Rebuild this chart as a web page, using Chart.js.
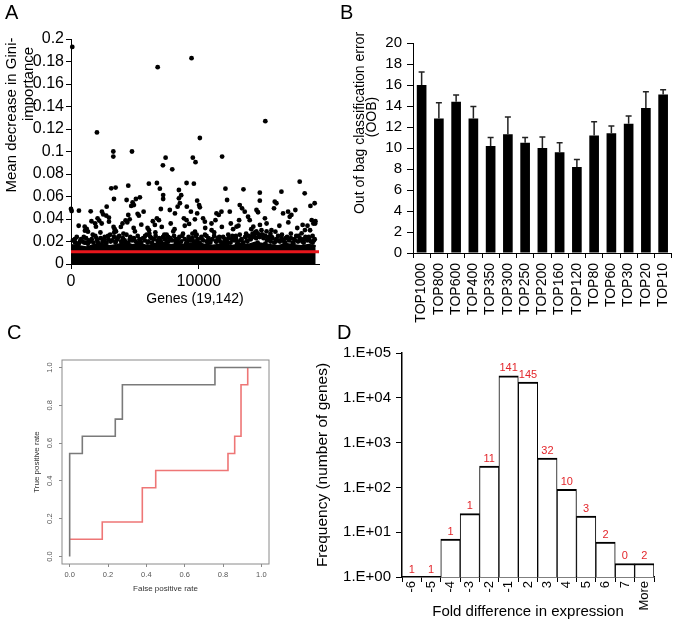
<!DOCTYPE html>
<html lang="en">
<head>
<meta charset="UTF-8">
<title>Gene importance, OOB error, ROC and fold-change histogram</title>
<script src="https://cdn.jsdelivr.net/npm/chart.js"></script>
<style>
  body { margin: 0; background: #fff; }
  .fig { position: relative; width: 685px; height: 621px; font-family: 'Liberation Sans', Arial, sans-serif; }
  .fig canvas { position: absolute; }
  .tag { position: absolute; font-size: 20px; line-height: 20px; color: #000; }
</style>
</head>
<body>
<div class="fig">
  <canvas id="chartA" width="340" height="312" style="left:0;top:0"></canvas>
  <canvas id="chartB" width="345" height="330" style="left:340px;top:0"></canvas>
  <canvas id="chartC" width="290" height="301" style="left:0;top:320px"></canvas>
  <canvas id="chartD" width="395" height="296" style="left:290px;top:325px"></canvas>
  <div class="tag" style="left:5px;top:2px">A</div>
  <div class="tag" style="left:340px;top:2px">B</div>
  <div class="tag" style="left:7px;top:322px">C</div>
  <div class="tag" style="left:337px;top:322px">D</div>
</div>

<script>
  const FONT = "'Liberation Sans', Arial, sans-serif";

  // --- A: mean decrease in Gini importance, one value per gene ---
  const geneAxisMax = 19400;
  const giniCutoff = 0.011;
  // genes standing out above the dense band [gene index, importance]
  const giniOutliers = [
    [100, 0.193], [6780, 0.175], [9430, 0.183], [15200, 0.127], [2030, 0.117], [10080, 0.112],
    [3310, 0.100], [3310, 0.0955], [4770, 0.100], [7400, 0.0945], [9530, 0.0945], [9740, 0.0905],
    [7190, 0.0877], [7920, 0.0842], [11820, 0.0955], [17890, 0.0732], [3150, 0.0673], [3490, 0.0679],
    [4480, 0.0696], [6090, 0.0714], [6720, 0.072], [9040, 0.072], [9610, 0.0714], [12080, 0.067],
    [13490, 0.0664], [8440, 0.0658], [18280, 0.0628], [16460, 0.0643], [14770, 0.0634], [14770, 0.0563],
    [12210, 0.0569], [9870, 0.0563], [10020, 0.0524], [10080, 0.0504], [3360, 0.0578], [5390, 0.0593],
    [5080, 0.0578], [4820, 0.0548], [4920, 0.0524], [4710, 0.0516], [4350, 0.0569],
    [0, 0.0489], [50, 0.0471], [620, 0.0474], [1540, 0.0468], [2420, 0.0465], [2520, 0.0441],
    [2790, 0.051], [2760, 0.043], [2970, 0.0412], [2970, 0.0376], [2080, 0.0406], [2210, 0.0385],
    [1880, 0.0362], [1950, 0.0332], [1070, 0.0332], [1230, 0.0311], [1090, 0.0296], [1330, 0.0287],
    [3330, 0.033], [3420, 0.031], [3380, 0.028], [3520, 0.029], [5210, 0.0446], [5310, 0.043],
    [4480, 0.0436], [4590, 0.0397], [4270, 0.0388], [4030, 0.036], [4400, 0.037], [3900, 0.033],
    [5680, 0.0465], [5990, 0.032], [6100, 0.030], [6130, 0.027], [6950, 0.067], [7210, 0.0613],
    [7210, 0.0578], [7030, 0.0489], [7730, 0.048], [6720, 0.0406], [6880, 0.039], [6560, 0.0347],
    [8130, 0.045], [8620, 0.0611], [8440, 0.0584], [8520, 0.054], [8340, 0.051], [9060, 0.051],
    [9380, 0.0465], [8830, 0.0406], [9040, 0.039], [9240, 0.0356], [9700, 0.0287], [9830, 0.026],
    [9870, 0.045], [9690, 0.0397], [11380, 0.045], [11560, 0.0436], [11770, 0.0465], [11300, 0.039],
    [10330, 0.0406], [10470, 0.0376], [10990, 0.036], [12420, 0.0465], [13200, 0.0524], [13380, 0.0495],
    [13590, 0.0465], [13850, 0.042], [13980, 0.039], [14510, 0.048], [14630, 0.046], [15170, 0.0406],
    [15300, 0.036], [14780, 0.0347], [14260, 0.0332], [13150, 0.039], [12950, 0.0332], [12680, 0.031],
    [15940, 0.0554], [16070, 0.054], [15880, 0.0495], [16590, 0.045], [15680, 0.030], [15990, 0.0287],
    [17110, 0.042], [16980, 0.0465], [17240, 0.0436], [17550, 0.048], [18120, 0.0347], [18300, 0.0302],
    [18040, 0.0273], [18830, 0.039], [18960, 0.036], [18700, 0.030], [19100, 0.036], [19060, 0.054],
    [18730, 0.0516],
    [600, 0.034], [1600, 0.038], [2400, 0.036], [4900, 0.032], [5500, 0.035], [6400, 0.038],
    [7100, 0.033], [7800, 0.036], [8100, 0.031], [8900, 0.034], [10500, 0.032], [11000, 0.030],
    [11800, 0.033], [12500, 0.036], [13100, 0.034], [14100, 0.031], [16300, 0.034], [17000, 0.037],
    [17700, 0.032], [18500, 0.034], [19120, 0.038],
    [300, 0.022], [700, 0.020], [1000, 0.024], [1400, 0.021], [1700, 0.026], [2000, 0.023],
    [2300, 0.028], [2600, 0.021], [2900, 0.025], [3100, 0.020], [3700, 0.024], [4100, 0.027],
    [4600, 0.022], [5000, 0.029], [5400, 0.021], [5800, 0.025], [6300, 0.023], [6600, 0.028],
    [7000, 0.021], [7300, 0.026], [7600, 0.024], [8000, 0.029], [8200, 0.022], [8700, 0.025],
    [9200, 0.021], [9500, 0.027], [10200, 0.023], [10600, 0.025], [10900, 0.021], [11200, 0.028],
    [11600, 0.024], [12000, 0.020], [12300, 0.026], [12600, 0.022], [12900, 0.025], [13300, 0.021],
    [13700, 0.027], [14000, 0.024], [14400, 0.028], [14700, 0.025], [15000, 0.026], [15400, 0.022],
    [15700, 0.024], [16200, 0.021], [16500, 0.026], [16800, 0.023], [17200, 0.027], [17500, 0.021],
    [17800, 0.025], [18200, 0.022], [18600, 0.024], [19000, 0.021],
    [14200, 0.027], [14500, 0.029], [14900, 0.030], [15300, 0.029], [15600, 0.027],
    [500, 0.018], [1200, 0.019], [2100, 0.019], [2700, 0.018], [3500, 0.020], [4300, 0.019],
    [5200, 0.018], [6000, 0.019], [6800, 0.018], [7500, 0.020], [8400, 0.019], [9000, 0.018],
    [9900, 0.019], [10700, 0.018], [11400, 0.020], [12200, 0.019], [13000, 0.018], [13800, 0.020],
    [14600, 0.019], [15200, 0.018], [16000, 0.020], [16700, 0.019], [17400, 0.018], [18100, 0.020],
    [18900, 0.019]
  ];
  // crowded genes just above the solid band
  const giniCrowd = [
    [150, 0.021], [320, 0.019], [450, 0.024], [610, 0.018], [780, 0.022], [900, 0.020], [1050, 0.019],
    [1180, 0.023], [1320, 0.018], [1480, 0.020], [1620, 0.022], [1760, 0.019], [1900, 0.025], [2050, 0.021],
    [2180, 0.018], [2330, 0.023], [2480, 0.020], [2640, 0.024], [2780, 0.019], [2920, 0.022], [3060, 0.026],
    [3200, 0.021], [3360, 0.024], [3480, 0.019], [3620, 0.022], [3780, 0.025], [3920, 0.020], [4060, 0.023],
    [4200, 0.021], [4340, 0.026], [4480, 0.019], [4640, 0.024], [4780, 0.021], [4920, 0.023], [5060, 0.020],
    [5220, 0.025], [5360, 0.022], [5500, 0.019], [5640, 0.023], [5780, 0.021], [5920, 0.026], [6060, 0.020],
    [6200, 0.024], [6340, 0.019], [6480, 0.022], [6620, 0.025], [6760, 0.021], [6900, 0.023], [7060, 0.019],
    [7200, 0.024], [7340, 0.022], [7480, 0.026], [7620, 0.020], [7760, 0.023], [7900, 0.021], [8060, 0.025],
    [8200, 0.019], [8340, 0.022], [8480, 0.024], [8620, 0.020], [8760, 0.027], [8900, 0.022], [9060, 0.019],
    [9200, 0.024], [9340, 0.021], [9480, 0.023], [9620, 0.020], [9760, 0.025], [9900, 0.022], [10060, 0.019],
    [10200, 0.024], [10340, 0.021], [10480, 0.026], [10620, 0.020], [10760, 0.023], [10900, 0.019], [11060, 0.022],
    [11200, 0.025], [11340, 0.020], [11480, 0.023], [11620, 0.021], [11760, 0.019], [11900, 0.024], [12060, 0.022],
    [12200, 0.020], [12340, 0.023], [12480, 0.019], [12620, 0.025], [12760, 0.021], [12900, 0.023], [13060, 0.020],
    [13200, 0.026], [13340, 0.022], [13480, 0.019], [13620, 0.024], [13760, 0.021], [13900, 0.025], [14060, 0.022],
    [14200, 0.024], [14340, 0.026], [14480, 0.023], [14620, 0.027], [14760, 0.024], [14900, 0.026], [15060, 0.023],
    [15200, 0.025], [15340, 0.021], [15480, 0.024], [15620, 0.020], [15760, 0.023], [15900, 0.019], [16060, 0.022],
    [16200, 0.025], [16340, 0.020], [16480, 0.023], [16620, 0.021], [16760, 0.019], [16900, 0.024], [17060, 0.021],
    [17200, 0.023], [17340, 0.019], [17480, 0.022], [17620, 0.025], [17760, 0.020], [17900, 0.023], [18060, 0.021],
    [18200, 0.019], [18340, 0.024], [18480, 0.021], [18620, 0.023], [18760, 0.020], [18900, 0.025], [19060, 0.022]
  ];
  // upper edge of the solid band of ~19,000 low-importance genes
  const bandGene = [0, 600, 1200, 1800, 2400, 3000, 3600, 4200, 4800, 5400, 6000, 6600, 7200, 7800,
    8400, 9000, 9600, 10200, 10800, 11400, 12000, 12600, 13200, 13800, 14400, 15000, 15600, 16200,
    16800, 17400, 18000, 18600, 19142];
  const bandTop = [0.017, 0.016, 0.015, 0.017, 0.018, 0.016, 0.017, 0.019, 0.017, 0.018, 0.016, 0.018,
    0.019, 0.017, 0.018, 0.017, 0.019, 0.018, 0.016, 0.017, 0.018, 0.016, 0.018, 0.017, 0.019, 0.018,
    0.017, 0.016, 0.018, 0.017, 0.016, 0.017, 0.016];

  // --- B: out of bag classification error by gene set ---
  const geneSets = ['TOP1000', 'TOP800', 'TOP600', 'TOP400', 'TOP350', 'TOP300', 'TOP250', 'TOP200',
    'TOP160', 'TOP120', 'TOP80', 'TOP60', 'TOP30', 'TOP20', 'TOP10'];
  const oobMean = [16.0, 12.8, 14.4, 12.8, 10.2, 11.3, 10.5, 10.0, 9.6, 8.2, 11.2, 11.4, 12.3, 13.8, 15.1];
  const oobSd = [1.25, 1.5, 0.65, 1.15, 0.8, 1.65, 0.5, 1.05, 0.9, 0.7, 1.3, 0.7, 0.75, 1.55, 0.45];

  // --- C: ROC curves (false positive rate, true positive rate) ---
  const rocTicks = [0, 0.2, 0.4, 0.6, 0.8, 1.0];
  const rocGrayFpr = [0, 0, 0.066, 0.238, 0.275, 0.758, 1.0];
  const rocGrayTpr = [0, 0.545, 0.636, 0.727, 0.909, 1.0, 1.0];
  const rocRedFpr = [0, 0.17, 0.379, 0.449, 0.826, 0.861, 0.894, 0.929];
  const rocRedTpr = [0.091, 0.182, 0.364, 0.455, 0.545, 0.636, 0.909, 1.0];

  // --- D: histogram of fold differences (log frequency) ---
  const foldBins = ['-6', '-5', '-4', '-3', '-2', '-1', '2', '3', '4', '5', '6', '7', 'More'];
  const foldFreq = [1, 1, 7, 26, 300, 31000, 22400, 450, 90, 23, 6, 2, 2];
  const foldRedCounts = ['1', '1', '1', '1', '11', '141', '145', '32', '10', '3', '2', '0', '2'];
  const logTicks = [1, 10, 100, 1000, 10000, 100000];

  Chart.defaults.font.family = FONT;
  Chart.defaults.color = '#000';
  Chart.defaults.plugins.legend.display = false;
  Chart.defaults.plugins.tooltip.enabled = false;

  const pts = (xs, ys) => xs.map((x, i) => ({ x, y: ys[i] }));
  const pairs = list => list.map(([x, y]) => ({ x, y }));

  // rotated axis titles placed by hand
  const sideTitle = (lines, size) => ({
    id: 'sideTitle',
    afterDraw(chart) {
      const ctx = chart.ctx;
      ctx.save();
      ctx.fillStyle = '#000';
      ctx.font = `${size}px ${FONT}`;
      ctx.textAlign = 'center';
      ctx.textBaseline = 'middle';
      lines.forEach(l => {
        ctx.save();
        ctx.translate(l.x, l.y);
        ctx.rotate(-Math.PI / 2);
        ctx.fillText(l.text, 0, 0);
        ctx.restore();
      });
      ctx.restore();
    }
  });

  const fixSize = (w, h) => s => { if (w != null) s.width = w; if (h != null) s.height = h; };

  // Panel A
  new Chart(document.getElementById('chartA'), {
    type: 'scatter',
    data: {
      datasets: [
        {
          data: [{ x: 0, y: giniCutoff }, { x: geneAxisMax, y: giniCutoff }],
          showLine: true, borderColor: '#e8161c', borderWidth: 3, pointRadius: 0
        },
        {
          data: pairs(giniOutliers).concat(pairs(giniCrowd)),
          pointRadius: 2.4, pointBackgroundColor: '#000', pointBorderWidth: 0, clip: 4
        },
        {
          type: 'line',
          data: pts(bandGene, bandTop),
          fill: 'origin', backgroundColor: '#000', borderColor: '#000', borderWidth: 2,
          pointRadius: 0, tension: 0
        }
      ]
    },
    options: {
      responsive: false, animation: false, devicePixelRatio: 1,
      layout: { autoPadding: false, padding: { top: 39, right: 21, left: 0, bottom: 0 } },
      scales: {
        x: {
          type: 'linear', min: 0, max: geneAxisMax,
          afterBuildTicks: s => { s.ticks = [0, 10000].map(v => ({ value: v })); },
          afterFit: fixSize(null, 48),
          grid: { drawOnChartArea: false, tickLength: 5, color: '#000' },
          border: { color: '#000' },
          ticks: { font: { size: 16 }, padding: 3, callback: v => String(v) },
          title: { display: true, text: 'Genes (19,142)', font: { size: 14 }, padding: { bottom: 4.6, top: 0 } }
        },
        y: {
          min: 0, max: 0.2,
          afterFit: fixSize(71, null),
          grid: { drawOnChartArea: false, tickLength: 5, color: '#000' },
          border: { color: '#000' },
          ticks: { stepSize: 0.02, font: { size: 16 }, padding: 2, callback: v => String(+v.toFixed(2)) }
        }
      }
    },
    plugins: [sideTitle([
      { text: 'Mean decrease in Gini-', x: 12, y: 115 },
      { text: 'importance', x: 29, y: 84 }
    ], 15)]
  });

  // Panel B
  const errorBars = {
    id: 'errorBars',
    afterDatasetsDraw(chart) {
      const { ctx, scales: { y } } = chart;
      const meta = chart.getDatasetMeta(0);
      ctx.save();
      ctx.strokeStyle = '#222';
      ctx.lineWidth = 1.5;
      meta.data.forEach((bar, i) => {
        const top = y.getPixelForValue(oobMean[i] + oobSd[i]);
        ctx.beginPath();
        ctx.moveTo(bar.x, bar.y);
        ctx.lineTo(bar.x, top);
        ctx.moveTo(bar.x - 3, top);
        ctx.lineTo(bar.x + 3, top);
        ctx.stroke();
      });
      ctx.restore();
    }
  };

  new Chart(document.getElementById('chartB'), {
    type: 'bar',
    data: {
      labels: geneSets,
      datasets: [{ data: oobMean, backgroundColor: '#000', barPercentage: 0.56, categoryPercentage: 1 }]
    },
    options: {
      responsive: false, animation: false, devicePixelRatio: 1,
      layout: { autoPadding: false, padding: { top: 43, right: 2, left: 0, bottom: 0 } },
      scales: {
        x: {
          afterFit: fixSize(null, 77),
          grid: { drawOnChartArea: false, tickLength: 5, color: '#000', offset: true },
          border: { color: '#000' },
          ticks: { font: { size: 14 }, minRotation: 90, maxRotation: 90, autoSkip: false, padding: 5 }
        },
        y: {
          min: 0, max: 20,
          afterFit: fixSize(73, null),
          grid: { drawOnChartArea: false, tickLength: 6, color: '#000' },
          border: { color: '#000' },
          ticks: { stepSize: 2, font: { size: 15 }, padding: 5 }
        }
      }
    },
    plugins: [errorBars, sideTitle([
      { text: 'Out of bag classification error', x: 20, y: 123 },
      { text: '(OOB)', x: 32, y: 117 }
    ], 14)]
  });

  // Panel C
  const rocFrame = {
    id: 'rocFrame',
    afterDraw(chart) {
      const { ctx, chartArea: a, scales: { y } } = chart;
      ctx.save();
      ctx.strokeStyle = '#8a8a8a';
      ctx.lineWidth = 1;
      ctx.strokeRect(a.left, a.top, a.right - a.left, a.bottom - a.top);
      ctx.fillStyle = '#555';
      ctx.font = `7.5px ${FONT}`;
      ctx.textAlign = 'center';
      ctx.textBaseline = 'middle';
      rocTicks.forEach(v => {
        ctx.save();
        ctx.translate(50, y.getPixelForValue(v));
        ctx.rotate(-Math.PI / 2);
        ctx.fillText(v.toFixed(1), 0, 0);
        ctx.restore();
      });
      ctx.restore();
    }
  };

  const rocAxis = {
    type: 'linear', min: -0.04, max: 1.04,
    afterBuildTicks: s => { s.ticks = rocTicks.map(v => ({ value: v })); },
    grid: { drawOnChartArea: false, tickLength: 3, color: '#8a8a8a' },
    border: { display: false }
  };

  new Chart(document.getElementById('chartC'), {
    type: 'scatter',
    data: {
      datasets: [
        { data: pts(rocGrayFpr, rocGrayTpr), showLine: true, stepped: 'before', borderColor: '#7a7a7a', borderWidth: 1.6, pointRadius: 0 },
        { data: pts(rocRedFpr, rocRedTpr), showLine: true, stepped: 'before', borderColor: '#ee7676', borderWidth: 1.6, pointRadius: 0 }
      ]
    },
    options: {
      responsive: false, animation: false, devicePixelRatio: 1,
      layout: { autoPadding: false, padding: { top: 40, right: 21, left: 0, bottom: 0 } },
      scales: {
        x: Object.assign({}, rocAxis, {
          afterFit: fixSize(null, 57),
          ticks: { font: { size: 7.5 }, color: '#555', padding: 3, callback: v => v.toFixed(1) },
          title: { display: true, text: 'False positive rate', color: '#333', font: { size: 8 }, padding: { top: 0, bottom: 27 } }
        }),
        y: Object.assign({}, rocAxis, {
          afterFit: fixSize(62, null),
          ticks: { display: false },
          title: { display: true, text: 'True positive rate', color: '#333', font: { size: 8 }, padding: { top: 32, bottom: 0 } }
        })
      }
    },
    plugins: [rocFrame]
  });

  // Panel D
  const redCounts = {
    id: 'redCounts',
    afterDatasetsDraw(chart) {
      const ctx = chart.ctx;
      ctx.save();
      ctx.fillStyle = '#e3262b';
      ctx.font = `11px ${FONT}`;
      ctx.textAlign = 'center';
      ctx.textBaseline = 'bottom';
      chart.getDatasetMeta(0).data.forEach((bar, i) => {
        ctx.fillText(foldRedCounts[i], bar.x, bar.y - 2);
      });
      ctx.restore();
    }
  };

  new Chart(document.getElementById('chartD'), {
    type: 'bar',
    data: {
      labels: foldBins,
      datasets: [{
        data: foldFreq, backgroundColor: '#fff', borderColor: '#000',
        borderWidth: { top: 2, left: 1, right: 1, bottom: 0 }, borderSkipped: false,
        barPercentage: 1, categoryPercentage: 1
      }]
    },
    options: {
      responsive: false, animation: false, devicePixelRatio: 1,
      layout: { autoPadding: false, padding: { top: 28, right: 31, left: 0, bottom: 0 } },
      scales: {
        x: {
          afterFit: fixSize(null, 44),
          grid: { drawOnChartArea: false, tickLength: 5, color: '#000', offset: true },
          border: { color: '#000', width: 1.5 },
          ticks: { font: { size: 13 }, minRotation: 90, maxRotation: 90, autoSkip: false, padding: -1 },
          title: { display: true, text: 'Fold difference in expression', font: { size: 15 }, padding: { top: 0, bottom: 0 } }
        },
        y: {
          type: 'logarithmic', min: 1, max: 100000,
          afterBuildTicks: s => { s.ticks = logTicks.map(v => ({ value: v })); },
          afterFit: fixSize(112, null),
          grid: { drawOnChartArea: false, tickLength: 6, color: '#000' },
          border: { color: '#000', width: 1.5 },
          ticks: { font: { size: 15 }, padding: 5, callback: v => '1.E+' + String(Math.round(Math.log10(v))).padStart(2, '0') },
          title: { display: true, text: 'Frequency (number of genes)', font: { size: 15.5 }, padding: { top: 23, bottom: 0 } }
        }
      }
    },
    plugins: [redCounts]
  });
</script>
</body>
</html>
